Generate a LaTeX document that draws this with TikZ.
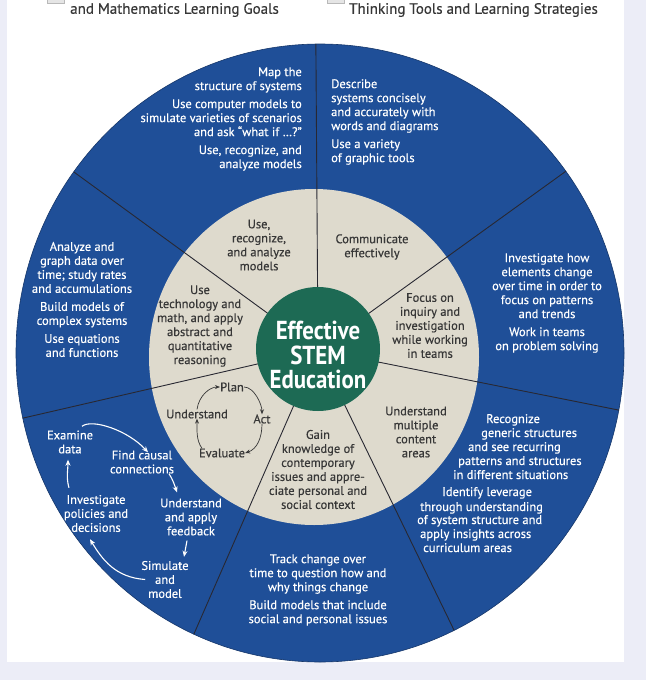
\documentclass[tikz,border=0pt]{standalone}
\usepackage{fontspec}
\setmainfont{PT Sans}
\newfontfamily\bodyfont[FakeBold=0.4]{PT Sans}
\newfontfamily\titlefont[FakeStretch=0.88]{PT Sans}
\usetikzlibrary{calc,arrows.meta}

\definecolor{ringblue}{RGB}{31,79,152}
\definecolor{ringbeige}{RGB}{222,218,205}
\definecolor{hubgreen}{RGB}{29,106,84}
\definecolor{pagelav}{RGB}{236,237,247}
\definecolor{inktext}{RGB}{55,55,55}
\definecolor{divline}{RGB}{40,40,50}

\tikzset{
  outertext/.style={text=white, align=center, inner sep=0pt, font=\bodyfont\fontsize{12.5}{14}\selectfont},
  innertext/.style={text=inktext, align=center, inner sep=0pt, font=\bodyfont\fontsize{12.5}{14}\selectfont},
  headtext/.style={text=inktext, inner sep=0pt, font=\bodyfont\fontsize{15}{16}\selectfont},
  loopar/.style={white, line width=1.1pt, -{Stealth[length=6pt,width=5pt]}},
  cyclear/.style={inktext, line width=0.7pt, -{Stealth[length=5pt,width=4pt]}},
  divider/.style={divline, line width=0.9pt}
}

\begin{document}
\begin{tikzpicture}[x=1pt,y=-1pt]
\useasboundingbox (0,0) rectangle (646,680);
\fill[pagelav] (0,0) rectangle (646,680);
\fill[white] (7,0) rectangle (624,662);
\filldraw[fill=gray!20,draw=gray!55] (47,-4) rectangle (64,3);
\filldraw[fill=gray!20,draw=gray!55] (327,-4) rectangle (344,3);

\node[headtext] (goalshead) at (174.5,10) {and Mathematics Learning Goals};
\node[headtext] (toolshead) at (473.5,10) {Thinking Tools and Learning Strategies};

\coordinate (O) at (320,353);
\coordinate (B) at (314,357);
\coordinate (L) at (318,350);
\coordinate (G) at (318,349);

\filldraw[fill=ringblue, draw=ringblue!70!black, line width=0.6pt] (O) ellipse [x radius=304pt, y radius=309pt];
\fill[ringbeige] (B) ellipse [x radius=165pt, y radius=168pt];
\begin{scope}
  \clip (O) ellipse [x radius=304pt, y radius=309pt];
  \foreach \a in {90.4,35.8,-11.3,-64.1,-113.6,-167,-216.1}
    \draw[divider] (L) -- ++(-\a:340);
\end{scope}
\fill[hubgreen] (G) circle [radius=62pt];

\node[text=white, align=center, inner sep=0pt, font=\titlefont\bfseries\fontsize{26}{24.5}\selectfont] (hub) at (318,355) {Effective\\STEM\\Education};

\node[outertext, align=right, anchor=east] (mapsys) at (302,119) {Map the\\structure of systems\\[4pt]Use computer models to\\simulate varieties of scenarios\\and ask “what if …?”\\[4pt]Use, recognize, and\\analyze models};
\node[outertext, align=left, anchor=west] (describe) at (331,122) {Describe\\systems concisely\\and accurately with\\words and diagrams\\[4pt]Use a variety\\of graphic tools};
\node[outertext] (graphdata) at (82,299.5) {Analyze and\\graph data over\\time; study rates\\and accumulations\\[4pt]Build models of\\complex systems\\[4pt]Use equations\\and functions};
\node[outertext] (trends) at (547,303) {Investigate how\\elements change\\over time in order to\\focus on patterns\\and trends\\[4pt]Work in teams\\on problem solving};
\node[outertext] (trackchange) at (318,590) {Track change over\\time to question how and\\why things change\\[4pt]Build models that include\\social and personal issues};

\foreach \i/\x/\y/\t in {
  1/486/423/{Recognize},
  2/481/437/{generic structures},
  3/468/451/{and see recurring},
  4/458/465/{patterns and structures},
  5/453/479/{in different situations},
  6/442/496/{Identify leverage},
  7/420/511/{through understanding},
  8/417/524/{of system structure and},
  9/420/538/{apply insights across},
  10/423/552/{curriculum areas}}
  \node[outertext, anchor=base west] (recognize\i) at (\x,\y) {\t};

\node[outertext] (examine) at (70,442) {Examine\\data};
\node[outertext] (causal) at (142,462) {Find causal\\connections};
\node[outertext] (policies) at (96,513.5) {Investigate\\policies and\\decisions};
\node[outertext] (feedback) at (191,517) {Understand\\and apply\\feedback};
\node[outertext] (simulate) at (165,579.5) {Simulate\\and\\model};

\draw[loopar] ([xshift=12pt,yshift=4pt]examine.north) .. controls +(10,-8) and +(-20,-22) .. ([xshift=6pt,yshift=-2pt]causal.north);
\draw[loopar] ([xshift=27pt]causal.south) .. controls +(4,6) and +(-2,-6) .. ([xshift=-14pt,yshift=6pt]feedback.north);
\draw[loopar] ([xshift=-4pt,yshift=-5pt]feedback.south) -- ([xshift=19pt,yshift=4pt]simulate.north);
\draw[loopar] ([xshift=4pt]simulate.west) .. controls +(-30,-2) and +(12,20) .. ([xshift=-6pt,yshift=-7pt]policies.south);
\draw[loopar] ([xshift=-27pt,yshift=7pt]policies.north) .. controls +(-3,-10) and +(0,10) .. ([xshift=-2pt,yshift=-6pt]examine.south);

\node[innertext] (usemodels) at (259,245) {Use,\\recognize,\\and analyze\\models};
\node[innertext] (communicate) at (372,247) {Communicate\\effectively};
\node[innertext] (technology) at (200,326) {Use\\technology and\\math, and apply\\abstract and\\quantitative\\reasoning};
\node[innertext] (inquiry) at (430,325.5) {Focus on\\inquiry and\\investigation\\while working\\in teams};
\node[innertext] (multiple) at (416,432) {Understand\\multiple\\content\\areas};
\node[innertext] (context) at (318,469.5) {Gain\\knowledge of\\contemporary\\issues and appre-\\ciate personal and\\social context};

\node[innertext] (plan) at (232,387) {Plan};
\node[innertext] (act) at (262,419) {Act};
\node[innertext] (evaluate) at (222,453) {Evaluate};
\node[innertext] (understand) at (197,414) {Understand};

\draw[cyclear] (understand.north) .. controls +(2,-14) and +(-10,0) .. (plan.west);
\draw[cyclear] (plan.east) .. controls +(10,0) and +(0,-10) .. (act.north);
\draw[cyclear] (act.south) .. controls +(0,14) and +(12,-4) .. (evaluate.east);
\draw[cyclear] ([xshift=-20pt]evaluate.north) .. controls +(-6,-8) and +(0,10) .. (understand.south);
\end{tikzpicture}
\end{document}
